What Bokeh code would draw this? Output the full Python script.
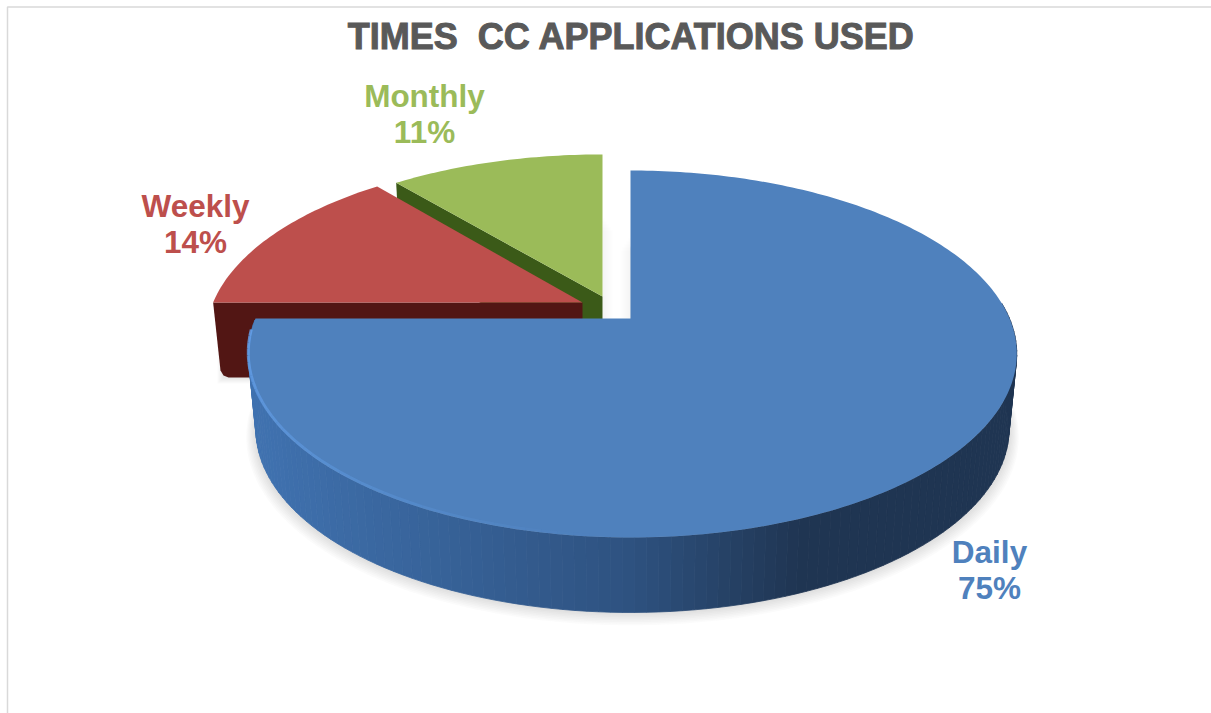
import math
from bokeh.core.properties import value
from bokeh.embed import file_html
from bokeh.models import Range1d
from bokeh.plotting import figure
from bokeh.resources import INLINE

# Survey result shown by the pie
title = "TIMES \u00a0CC APPLICATIONS USED"
categories = ["Daily", "Weekly", "Monthly"]
shares = [75, 14, 11]

top_colors = ["#4f81bd", "#bd4f4c", "#9bbb59"]
wall_colors = ["#2f5581", "#521614", "#3b5a18"]

# Layout of the tilted pie, in pixels
WIDTH, HEIGHT = 1211, 713
APEX = {"Daily": (630, 318), "Weekly": (582, 302), "Monthly": (602, 296)}
X_SCALE = {"Daily": 1.0, "Weekly": 0.985, "Monthly": 0.99}
Y_SCALE = {"Daily": 1.0, "Weekly": 0.98, "Monthly": 0.96}
RADIUS_X, BULGE, RADIUS_Y, TILT = 377, 2, 176.6, 0.1935
THICKNESS = 75
BASE_SHRINK = 0.98
LABEL_POS = {"Daily": (989, 551), "Weekly": (195, 205), "Monthly": (424, 95)}
LINE_GAP = 36


def rim(cat, theta):
    """Project a rim point (clockwise degrees from 12 o'clock) onto the page."""
    x0, y0 = APEX[cat]
    u, v = math.sin(math.radians(theta)), math.cos(math.radians(theta))
    w = 1 + TILT * v
    return (x0 + X_SCALE[cat] * (RADIUS_X * u + BULGE * u * u) / w,
            y0 - Y_SCALE[cat] * RADIUS_Y * v / w)


def base(cat, pt):
    """Move a top-face point down to the underside of the slab."""
    x0, _ = APEX[cat]
    return (x0 + (pt[0] - x0) * BASE_SHRINK, pt[1] + THICKNESS)


def arc(cat, a, b, step=1.0):
    n = max(2, int(abs(b - a) / step) + 1)
    return [rim(cat, a + (b - a) * i / (n - 1)) for i in range(n)]


def mix(c1, c2, t):
    t = min(1, max(0, t))
    return "#%02x%02x%02x" % tuple(round(a + (b - a) * t) for a, b in zip(c1, c2))


# Cumulative start and end angle of each slice
angles = {}
start = 0.0
for cat, share in zip(categories, shares):
    angles[cat] = (start, start + share * 3.6)
    start += share * 3.6

p = figure(width=WIDTH, height=HEIGHT, output_backend="svg", toolbar_location=None,
           x_range=Range1d(0, WIDTH), y_range=Range1d(HEIGHT, 0),
           min_border=0, outline_line_color=None, background_fill_color="white")
p.axis.visible = False
p.grid.visible = False

# Chart frame
p.line([7, 7, WIDTH], [HEIGHT, 6.5, 6.5], line_color="#d9d9d9", line_width=1.5)

# Soft shadow below the slab
a0, a1 = angles["Daily"]
outline = [base("Daily", q) for q in arc("Daily", a0, a1)]
cx, cy = APEX["Daily"][0], APEX["Daily"][1] + THICKNESS
for i in range(1, 9):
    s = 1 + i * 0.0032
    p.patch([cx + (x - cx) * s for x, _ in outline] + [cx],
            [cy + (y - cy) * s + i * 0.9 for _, y in outline] + [cy],
            fill_color="#808080", fill_alpha=0.035, line_color=None)
wx, wy = rim("Weekly", angles["Weekly"][0])
for i in range(1, 7):
    p.quad(left=[base("Weekly", (wx, wy))[0] - i + 3], right=[300],
           top=[wy + 40], bottom=[wy + THICKNESS + i],
           fill_color="#808080", fill_alpha=0.03, line_color=None)

# Faint shadows in the gap between Monthly and Daily
for i in range(1, 6):
    p.quad(left=[602], right=[602 + i * 2], top=[215 + i * 3], bottom=[318],
           fill_color="#808080", fill_alpha=0.02, line_color=None)
    p.quad(left=[630 - i * 2], right=[630], top=[235 + i * 3], bottom=[318],
           fill_color="#808080", fill_alpha=0.018, line_color=None)

# Monthly slice: the cut face shows as a dark band above Weekly
a0, a1 = angles["Monthly"]
apex = APEX["Monthly"]
edge = rim("Monthly", a0)
wall = [edge, apex, base("Monthly", apex), base("Monthly", edge)]
p.patch([q[0] for q in wall], [q[1] for q in wall], fill_color=wall_colors[2], line_color=None)
face = [apex] + arc("Monthly", a0, a1)
p.patch([q[0] for q in face], [q[1] for q in face], fill_color=top_colors[2], line_color=None)

# Weekly slice with its front cut face and a rounded lower corner
a0, a1 = angles["Weekly"]
apex = APEX["Weekly"]
edge = rim("Weekly", a0)
bx, by = base("Weekly", edge)
wall = [edge, apex, base("Weekly", apex), (bx + 8, by), (bx + 3, by - 2), (bx, by - 7)]
p.patch([q[0] for q in wall], [q[1] for q in wall], fill_color=wall_colors[1], line_color=None)
face = [apex] + arc("Weekly", a0, a1)
p.patch([q[0] for q in face], [q[1] for q in face], fill_color=top_colors[1], line_color=None)

# Daily slice: outer wall shaded from lit left to dark right
left_c, mid_c, right_c = (0x40, 0x72, 0xb0), (0x2e, 0x52, 0x80), (0x1f, 0x35, 0x52)
thetas = [85 + i * 1.5 for i in range(int(185 / 1.5) + 1)]
xs, ys, colors = [], [], []
for t0, t1 in zip(thetas[:-1], thetas[1:]):
    q0, q1 = rim("Daily", t0), rim("Daily", t1)
    b0, b1 = base("Daily", q0), base("Daily", q1)
    xs.append([q0[0], q1[0], b1[0], b0[0]])
    ys.append([q0[1], q1[1], b1[1], b0[1]])
    mx = (q0[0] + q1[0]) / 2
    if mx < 630:
        colors.append(mix(left_c, mid_c, (mx - 250) / 380))
    else:
        colors.append(mix(mid_c, right_c, (mx - 630) / 170))
p.patches(xs, ys, fill_color=colors, line_color=colors, line_width=0.8)

a0, a1 = angles["Daily"]
face = [APEX["Daily"]] + arc("Daily", a0, a1)
p.patch([q[0] for q in face], [q[1] for q in face], fill_color=top_colors[0], line_color=None)

# Light bevel along the front-left rim
segs = arc("Daily", 266, 185, 2.0)
seg_x = [[a[0], b[0]] for a, b in zip(segs[:-1], segs[1:])]
seg_y = [[a[1] - 1.5, b[1] - 1.5] for a, b in zip(segs[:-1], segs[1:])]
seg_a = [0.85 * (1 - i / len(seg_x)) for i in range(len(seg_x))]
p.multi_line(seg_x, seg_y, line_color="#64a0ea", line_alpha=seg_a, line_width=3)

# Title and data labels
p.text([631], [35.5], text=[title], text_color="#595959", text_outline_color="#595959",
       text_align="center", text_baseline="alphabetic",
       text_font=value("Liberation Sans"), text_font_size="36px", text_font_style="bold")
for cat, share, color in zip(categories, shares, top_colors):
    lx, ly = LABEL_POS[cat]
    p.text([lx, lx], [ly, ly + LINE_GAP], text=[cat, f"{share}%"], text_color=color,
           text_align="center", text_baseline="alphabetic",
           text_font=value("Liberation Sans"), text_font_size="31.5px", text_font_style="bold")

open("out.html", "w").write(file_html(p, INLINE))
